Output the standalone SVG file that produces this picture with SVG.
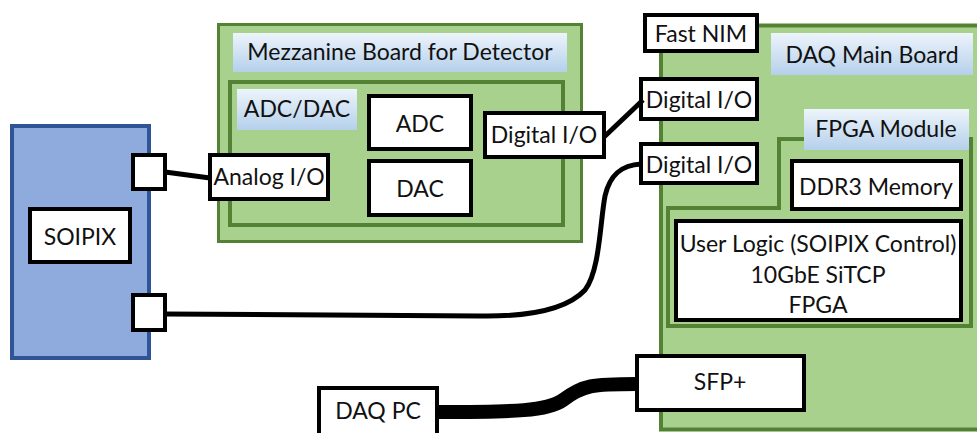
<svg xmlns="http://www.w3.org/2000/svg" width="977" height="433" viewBox="0 0 977 433">
  <defs>
    <linearGradient id="labelFill" x1="0" y1="0" x2="0" y2="1">
      <stop offset="0" stop-color="#EDF4FB"/>
      <stop offset="1" stop-color="#B5D0EB"/>
    </linearGradient>
    <style>
      .board { fill: #A9D18E; stroke: #548235; stroke-width: 4; }
      .box { fill: #FFFFFF; stroke: #000000; stroke-width: 4; }
      .label { fill: url(#labelFill); }
      .chip { fill: #8FAADC; stroke: #2F5597; stroke-width: 4; }
      text { font-family: Lato, "Liberation Sans", sans-serif; font-size: 23px; fill: #111111; text-anchor: middle; }
      .wire { fill: none; stroke: #000000; stroke-width: 5; }
      .fiber { fill: none; stroke: #000000; stroke-width: 14; }
    </style>
  </defs>

  <!-- Sensor chip -->
  <g id="soipix">
    <rect class="chip" x="12" y="126" width="137" height="232"/>
    <rect class="box" x="30" y="209" width="100" height="53"/>
    <text x="80" y="245">SOIPIX</text>
  </g>
  <g id="soipix-port-analog">
    <rect class="box" x="133" y="155" width="32" height="34"/>
  </g>
  <g id="soipix-port-digital">
    <rect class="box" x="133" y="295" width="32" height="35"/>
  </g>

  <!-- Mezzanine board -->
  <g id="mezzanine">
    <rect class="board" x="218.5" y="24.5" width="363" height="217" style="stroke-width:3"/>
    <rect class="label" x="233" y="33" width="334" height="39"/>
    <text x="400" y="60">Mezzanine Board for Detector</text>
    <rect class="board" x="230" y="82" width="333" height="143"/>
    <rect class="label" x="237" y="89" width="120" height="41"/>
    <text x="297" y="117">ADC/DAC</text>
  </g>
  <g id="adc">
    <rect class="box" x="369" y="96" width="102" height="53"/>
    <text x="420" y="132">ADC</text>
  </g>
  <g id="dac">
    <rect class="box" x="369" y="161" width="102" height="54"/>
    <text x="420" y="197">DAC</text>
  </g>
  <g id="analog-io">
    <rect class="box" x="210" y="155" width="118" height="44"/>
    <text x="269" y="185">Analog I/O</text>
  </g>
  <g id="mezz-digital-io">
    <rect class="box" x="485" y="113" width="119" height="44"/>
    <text x="544" y="143">Digital I/O</text>
  </g>

  <!-- DAQ main board -->
  <g id="main-board">
    <rect class="board" x="661" y="25.5" width="330" height="404"/>
    <rect class="label" x="771" y="33" width="202" height="42"/>
    <text x="872" y="63">DAQ Main Board</text>
  </g>
  <g id="fpga-module">
    <path class="board" d="M779,139 H971 V326 H668 V208 H779 Z"/>
    <rect class="label" x="804" y="109" width="165" height="41"/>
    <text x="886" y="137">FPGA Module</text>
  </g>
  <g id="ddr3">
    <rect class="box" x="792" y="161" width="169" height="48"/>
    <text x="876" y="195">DDR3 Memory</text>
  </g>
  <g id="fpga">
    <rect class="box" x="676" y="221" width="285" height="99"/>
    <text x="818" y="252">User Logic (SOIPIX Control)</text>
    <text x="818" y="283">10GbE SiTCP</text>
    <text x="818" y="313">FPGA</text>
  </g>
  <g id="fast-nim">
    <rect class="box" x="645" y="15" width="112" height="36"/>
    <text x="701" y="42">Fast NIM</text>
  </g>
  <g id="main-digital-io-1">
    <rect class="box" x="641" y="79" width="116" height="40"/>
    <text x="699" y="108">Digital I/O</text>
  </g>
  <g id="main-digital-io-2">
    <rect class="box" x="641" y="144" width="116" height="39"/>
    <text x="699" y="173">Digital I/O</text>
  </g>
  <g id="sfp">
    <rect class="box" x="637" y="356" width="167" height="54"/>
    <text x="720" y="390">SFP+</text>
  </g>

  <!-- Host PC -->
  <g id="daq-pc">
    <rect class="box" x="319" y="388" width="118" height="60"/>
    <text x="378" y="419">DAQ PC</text>
  </g>

  <!-- Cables -->
  <g id="connectors">
    <path class="wire" d="M165,172 L210,178"/>
    <path class="wire" d="M604,137 L643,100"/>
    <path class="wire" d="M165,314 L480,316 C540,317 570,306 585,290 C600,270 600,222 605,196 C610,174 622,165 641,164"/>
    <path class="fiber" d="M437,412 C515,412 548,411 563,400 C583,385 592,384 637,384"/>
  </g>
</svg>
